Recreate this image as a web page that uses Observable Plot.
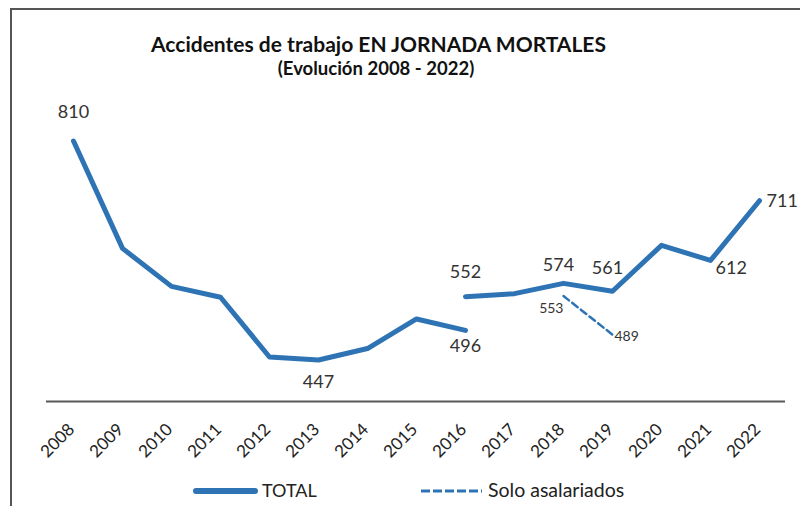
<!DOCTYPE html>
<html><head><meta charset="utf-8">
<script src="https://cdn.jsdelivr.net/npm/d3@7"></script>
<script src="https://cdn.jsdelivr.net/npm/@observablehq/plot@0.6"></script>
<style>
body{margin:0;background:#fff;}
#wrap{position:relative;width:800px;height:506px;overflow:hidden;font-family:Lato,sans-serif;}
#frame{position:absolute;left:10px;top:8px;width:800px;height:520px;border-top:2px solid #555;border-left:2px solid #555;}
#chart{position:absolute;left:0;top:0;}
</style></head><body>
<div id="wrap"><div id="frame"></div><div id="chart"></div></div>
<script>
// ---- data ----
const years = [2008,2009,2010,2011,2012,2013,2014,2015,2016,2017,2018,2019,2020,2021,2022];
const totalYearsA = [2008,2009,2010,2011,2012,2013,2014,2015,2016];
const totalA = [810,632,569,551,452,447,466,515,496];
const totalYearsB = [2016,2017,2018,2019,2020,2021,2022];
const totalB = [552,557,574,561,637,612,711];
const asalYears = [2018,2019];
const asal = [553,489];
const title = "Accidentes de trabajo EN JORNADA MORTALES";
const subtitle = "(Evolución 2008 - 2022)";
const legendLabels = ["TOTAL", "Solo asalariados"];

// ---- tables ----
const rowsA = totalYearsA.map((y,i)=>({year:y, value:totalA[i], seg:"A"}));
const rowsB = totalYearsB.map((y,i)=>({year:y, value:totalB[i], seg:"B"}));
const rowsTotal = rowsA.concat(rowsB);
const rowsAsal = asalYears.map((y,i)=>({year:y, value:asal[i]}));
const pick = (rows, y) => rows.filter(d => d.year === y);

const BLUE = "#2e74b5";
const LBL = "#333";
const base = 378.2;

const lbl = (data, o) => Plot.text(data, Object.assign({x:"year", y:"value", text:d=>String(d.value), fill:LBL, fontSize:18, lineAnchor:"middle"}, o));

const chart = Plot.plot({
  width: 800, height: 506,
  marginLeft: 46, marginRight: 15, marginTop: 86.2, marginBottom: 105,
  style: {fontFamily: "Lato, sans-serif", background: "transparent", overflow: "hidden"},
  x: {type: "point", domain: years, padding: 0.5, axis: null},
  y: {domain: [base, 900], axis: null},
  marks: [
    Plot.ruleY([base], {stroke: "#595959", strokeWidth: 2}),
    Plot.text(years, {x: d=>d, y: ()=>base, text: d=>String(d), rotate: -45, textAnchor: "end", lineAnchor: "bottom", dx: 2, dy: 29, fontSize: 17, fill: "#222"}),
    Plot.line(rowsTotal, {x:"year", y:"value", z:"seg", stroke: BLUE, strokeWidth: 5, strokeLinejoin: "round", strokeLinecap: "round"}),
    Plot.line(rowsAsal, {x:"year", y:"value", stroke: BLUE, strokeWidth: 2.5, strokeDasharray: "7,4"}),
    lbl(pick(rowsA, 2008), {dy: -29}),
    lbl(pick(rowsA, 2013), {dy: 22}),
    lbl(pick(rowsA, 2016), {dy: 16}),
    lbl(pick(rowsB, 2016), {dy: -24}),
    lbl(pick(rowsB, 2018), {dx: -5, dy: -18}),
    lbl(pick(rowsB, 2019), {dx: -5, dy: -23}),
    lbl(pick(rowsB, 2021), {textAnchor: "start", dx: 5, dy: 8}),
    lbl(pick(rowsB, 2022), {textAnchor: "start", dx: 7, dy: 1}),
    lbl(pick(rowsAsal, 2018), {textAnchor: "end", dx: 0, dy: 12, fontSize: 14}),
    lbl(pick(rowsAsal, 2019), {textAnchor: "start", dx: 2, dy: 2, fontSize: 14})
  ]
});

const svg = d3.select(chart);
svg.append("text").attr("x", 378.5).attr("y", 51.7).attr("text-anchor", "middle")
  .attr("font-size", 21).attr("font-weight", "bold").attr("fill", "#111").text(title);
svg.append("text").attr("x", 376).attr("y", 75).attr("text-anchor", "middle")
  .attr("font-size", 18.5).attr("font-weight", "bold").attr("fill", "#111").text(subtitle);

// legend
svg.append("line").attr("x1", 196).attr("x2", 255).attr("y1", 491).attr("y2", 491)
  .attr("stroke", BLUE).attr("stroke-width", 6).attr("stroke-linecap", "round");
svg.append("text").attr("x", 262).attr("y", 497).attr("text-anchor", "start").attr("font-size", 18).attr("fill", "#222").text(legendLabels[0]);
svg.append("line").attr("x1", 421).attr("x2", 482).attr("y1", 491).attr("y2", 491)
  .attr("stroke", BLUE).attr("stroke-width", 3).attr("stroke-dasharray", "9,3");
svg.append("text").attr("x", 488).attr("y", 497).attr("text-anchor", "start").attr("font-size", 19.5).attr("fill", "#222").text(legendLabels[1]);

document.getElementById("chart").appendChild(chart);
</script>
</body></html>
